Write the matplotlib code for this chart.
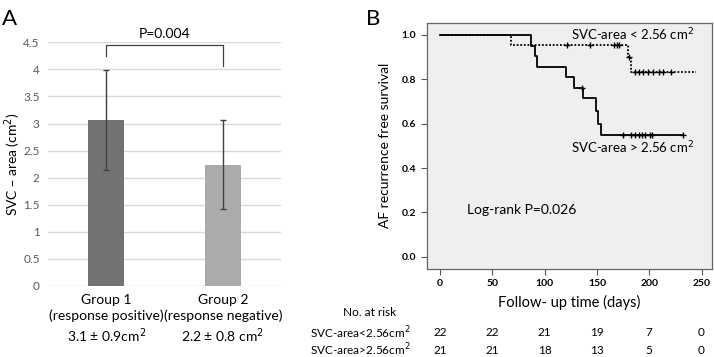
import numpy as np
import matplotlib.pyplot as plt
from matplotlib.transforms import blended_transform_factory

plt.rcParams['font.family'] = ['Lato', 'DejaVu Sans']

# Panel A data
groups = ['Group 1\n(response positive)\n3.1 \u00b1 0.9cm$^2$', 'Group 2\n(response negative)\n2.2 \u00b1 0.8 cm$^2$']
means = [3.07, 2.24]
sds = [0.92, 0.82]
bar_colors = ['#727272', '#ababab']
p_bar = 'P=0.004'

# Panel B data (Kaplan-Meier steps)
low_t = [0, 68, 180, 183, 245]
low_s = [1.0, 0.955, 0.90, 0.835, 0.835]
low_cens = [121, 143, 166, 169, 171, 181, 186, 190, 194, 199, 204, 209, 213, 221]
high_t = [0, 87, 91, 93, 120, 128, 137, 149, 151, 154, 232]
high_s = [1.0, 0.952, 0.905, 0.857, 0.81, 0.762, 0.714, 0.657, 0.60, 0.548, 0.548]
high_cens = [136, 175, 183, 186, 190, 193, 196, 201, 203, 232]
risk_times = [0, 50, 100, 150, 200, 250]
risk_low = [22, 22, 21, 19, 7, 0]
risk_high = [21, 21, 18, 13, 5, 0]


def surv_at(times, surv, t):
    i = np.searchsorted(times, t, side='right') - 1
    return np.array(surv)[i]


fig = plt.figure(figsize=(7.14, 3.57), dpi=100)

# ---- Panel A ----
axA = fig.add_axes([0.0672, 0.1989, 0.3264, 0.6826])
x = np.arange(len(means))
axA.bar(x, means, width=0.31, color=bar_colors, zorder=2)
axA.errorbar(x, means, yerr=sds, fmt='none', ecolor='#404040', elinewidth=1,
             capsize=2, capthick=1, zorder=3)
axA.set_xlim(-0.5, 1.5)
axA.set_ylim(0, 4.5)
axA.set_yticks(np.arange(0, 4.51, 0.5))
axA.set_yticklabels(['0', '0.5', '1', '1.5', '2', '2.5', '3', '3.5', '4', '4.5'])
axA.yaxis.grid(True, color='#d9d9d9', linewidth=1, zorder=0)
axA.set_axisbelow(True)
for s in axA.spines.values():
    s.set_visible(False)
axA.tick_params(axis='y', length=0, labelsize=8.5, labelcolor='#595959', pad=6)
axA.tick_params(axis='x', length=0, labelsize=10, pad=6)
axA.set_xticks(x)
axA.set_xticklabels(groups, linespacing=1.3)
axA.set_ylabel('SVC \u2013 area (cm$^2$)', fontsize=10)
axA.yaxis.set_label_coords(-0.108, 0.5)
axA.plot([0, 0, 1, 1], [4.25, 4.45, 4.45, 4.07], color='#404040', lw=0.9, clip_on=False)
axA.text(0.5, 4.55, p_bar, ha='center', va='bottom', fontsize=10)
fig.text(0.003, 0.975, 'A', fontsize=16, va='top', ha='left')

# ---- Panel B ----
axB = fig.add_axes([0.5976, 0.2465, 0.3996, 0.6899])
axB.set_facecolor('#efefef')
axB.step(low_t, low_s, where='post', color='black', lw=1.3, ls=(0, (1, 1)))
axB.step(high_t, high_s, where='post', color='black', lw=1.3)
axB.plot(low_cens, surv_at(low_t, low_s, low_cens), ls='none', marker='+',
         ms=4, mew=1, color='black')
axB.plot(high_cens, surv_at(high_t, high_s, high_cens), ls='none', marker='+',
         ms=4, mew=1, color='black')
axB.set_xlim(-12.7, 260)
axB.set_ylim(-0.055, 1.055)
axB.set_xticks(risk_times)
axB.set_yticks([0, 0.2, 0.4, 0.6, 0.8, 1.0])
axB.set_yticklabels(['0.0', '0.2', '0.4', '0.6', '0.8', '1.0'])
for lab in axB.get_xticklabels() + axB.get_yticklabels():
    lab.set_fontweight('bold')
axB.tick_params(labelsize=7.5, length=4, color='#555555', width=0.8)
for s in axB.spines.values():
    s.set_color('#666666')
    s.set_linewidth(0.9)
axB.set_ylabel('AF recurrence free survival', fontsize=10, labelpad=8)
axB.set_xlabel('Follow- up time (days)', fontsize=10.5, labelpad=5)
axB.text(243, 1.0, 'SVC-area < 2.56 cm$^2$', ha='right', va='center', fontsize=9.5)
axB.text(243, 0.49, 'SVC-area > 2.56 cm$^2$', ha='right', va='center', fontsize=9.5)
axB.text(26, 0.21, 'Log-rank P=0.026', ha='left', va='center', fontsize=10)
fig.text(0.512, 0.975, 'B', fontsize=16, va='top', ha='left')

# at-risk table
tr = blended_transform_factory(axB.transData, fig.transFigure)
fig.text(0.481, 1 - 313 / 357, 'No. at risk', fontsize=8.5, va='center', ha='left')
fig.text(0.434, 1 - 333 / 357, 'SVC-area<2.56cm$^2$', fontsize=8.5, va='center', ha='left')
fig.text(0.434, 1 - 350 / 357, 'SVC-area>2.56cm$^2$', fontsize=8.5, va='center', ha='left')
for t, a, b in zip(risk_times, risk_low, risk_high):
    fig.text(t, 1 - 333 / 357, str(a), transform=tr, fontsize=8.5, va='center', ha='center')
    fig.text(t, 1 - 350 / 357, str(b), transform=tr, fontsize=8.5, va='center', ha='center')

fig.savefig('out.png', dpi=100)
